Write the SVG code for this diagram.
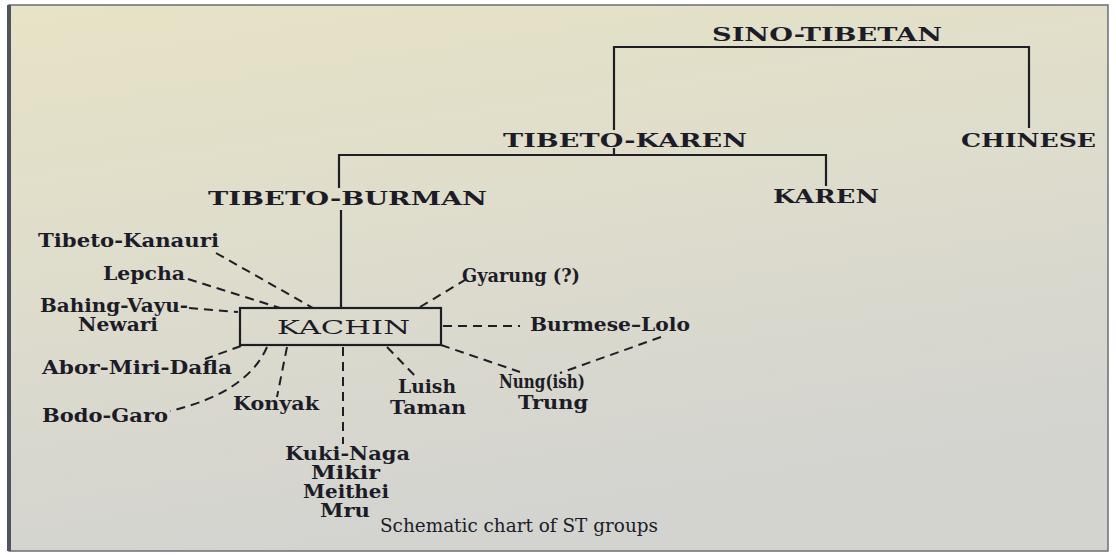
<svg xmlns="http://www.w3.org/2000/svg" width="1116" height="557" viewBox="0 0 1116 557">
<defs>
<linearGradient id="bg" x1="0" y1="0" x2="0.3" y2="1">
<stop offset="0" stop-color="#e7e3c6"/>
<stop offset="0.5" stop-color="#dedccc"/>
<stop offset="1" stop-color="#d3d3d0"/>
</linearGradient>
<style>
.cap{font-family:"DejaVu Serif","Liberation Serif",serif;font-weight:bold;font-size:19px;fill:#1c1c28;}
.lab{font-family:"DejaVu Serif","Liberation Serif",serif;font-weight:bold;font-size:18px;fill:#1c1c28;}
.reg{font-family:"DejaVu Serif","Liberation Serif",serif;font-size:19px;fill:#1c1c28;}
.solid{fill:none;stroke:#1e1e26;stroke-width:2.2;}
.dash{fill:none;stroke:#1e1e26;stroke-width:2;stroke-dasharray:9 6;}
</style>
</defs>
<rect x="0" y="0" width="1116" height="557" fill="#ffffff"/>
<rect x="9" y="5" width="1099" height="546" fill="url(#bg)" stroke="#6b6e74" stroke-width="1.5"/>
<rect x="7" y="5" width="4" height="546" fill="#4e5460"/>

<g id="connectors">
<path class="solid" d="M614,130 V47 H1029 V128"/>
<path class="solid" d="M614,148 V155 M339,188 V155 H826 V186"/>
<path class="solid" d="M341,210 V308"/>
<path class="dash" d="M216,253 L313,308"/>
<path class="dash" d="M188,279 L280,308"/>
<path class="dash" d="M189,308 L238,312"/>
<path class="dash" d="M241,346 L205,359"/>
<path class="dash" d="M267,347 Q247,393 170,411"/>
<path class="dash" d="M287,347 L277,397"/>
<path class="dash" d="M343,347 L343,444"/>
<path class="dash" d="M387,347 L418,379"/>
<path class="dash" d="M441,345 L520,372"/>
<path class="dash" d="M443,326 L520,326"/>
<path class="dash" d="M661,337 L560,373"/>
<path class="dash" d="M420,307 L470,277"/>
</g>

<g id="sino-tibetan"><text class="cap" x="712" y="41" textLength="230" lengthAdjust="spacingAndGlyphs">SINO-TIBETAN</text></g>
<g id="tibeto-karen"><text class="cap" x="503" y="147" textLength="244" lengthAdjust="spacingAndGlyphs">TIBETO-KAREN</text></g>
<g id="chinese"><text class="cap" x="961" y="147" textLength="135" lengthAdjust="spacingAndGlyphs">CHINESE</text></g>
<g id="tibeto-burman"><text class="cap" x="208" y="205" textLength="279" lengthAdjust="spacingAndGlyphs">TIBETO-BURMAN</text></g>
<g id="karen"><text class="cap" x="773" y="203" textLength="106" lengthAdjust="spacingAndGlyphs">KAREN</text></g>

<g id="kachin">
<rect x="240" y="308" width="201" height="37" fill="none" stroke="#1e1e26" stroke-width="2.2"/>
<text class="reg" x="277" y="334" textLength="133" lengthAdjust="spacingAndGlyphs">KACHIN</text>
</g>

<g id="tibeto-kanauri"><text class="lab" x="38" y="247" textLength="181" lengthAdjust="spacingAndGlyphs">Tibeto-Kanauri</text></g>
<g id="lepcha"><text class="lab" x="103" y="280" textLength="82" lengthAdjust="spacingAndGlyphs">Lepcha</text></g>
<g id="bahing-vayu">
<text class="lab" x="40" y="312" textLength="148" lengthAdjust="spacingAndGlyphs">Bahing-Vayu-</text>
<text class="lab" x="78" y="331" textLength="80" lengthAdjust="spacingAndGlyphs">Newari</text>
</g>
<g id="abor-miri-dafla"><text class="lab" x="42" y="374" textLength="190" lengthAdjust="spacingAndGlyphs">Abor-Miri-Dafla</text></g>
<g id="bodo-garo"><text class="lab" x="42" y="422" textLength="126" lengthAdjust="spacingAndGlyphs">Bodo-Garo</text></g>
<g id="konyak"><text class="lab" x="233" y="410" textLength="86" lengthAdjust="spacingAndGlyphs">Konyak</text></g>
<g id="kuki-naga">
<text class="lab" x="285" y="460" textLength="125" lengthAdjust="spacingAndGlyphs">Kuki-Naga</text>
<text class="lab" x="311" y="479" textLength="69" lengthAdjust="spacingAndGlyphs">Mikir</text>
<text class="lab" x="303" y="498" textLength="86" lengthAdjust="spacingAndGlyphs">Meithei</text>
<text class="lab" x="320" y="517" textLength="50" lengthAdjust="spacingAndGlyphs">Mru</text>
</g>
<g id="luish">
<text class="lab" x="398" y="393" textLength="58" lengthAdjust="spacingAndGlyphs">Luish</text>
<text class="lab" x="390" y="414" textLength="76" lengthAdjust="spacingAndGlyphs">Taman</text>
</g>
<g id="nung">
<text class="lab" x="499" y="388" textLength="86" lengthAdjust="spacingAndGlyphs">Nung(ish)</text>
<text class="lab" x="518" y="409" textLength="70" lengthAdjust="spacingAndGlyphs">Trung</text>
</g>
<g id="gyarung"><text class="lab" x="462" y="282" textLength="118" lengthAdjust="spacingAndGlyphs">Gyarung (?)</text></g>
<g id="burmese-lolo"><text class="lab" x="530" y="331" textLength="160" lengthAdjust="spacingAndGlyphs">Burmese–Lolo</text></g>

<text class="reg" x="380" y="532" textLength="278" lengthAdjust="spacingAndGlyphs">Schematic chart of ST groups</text>
</svg>
